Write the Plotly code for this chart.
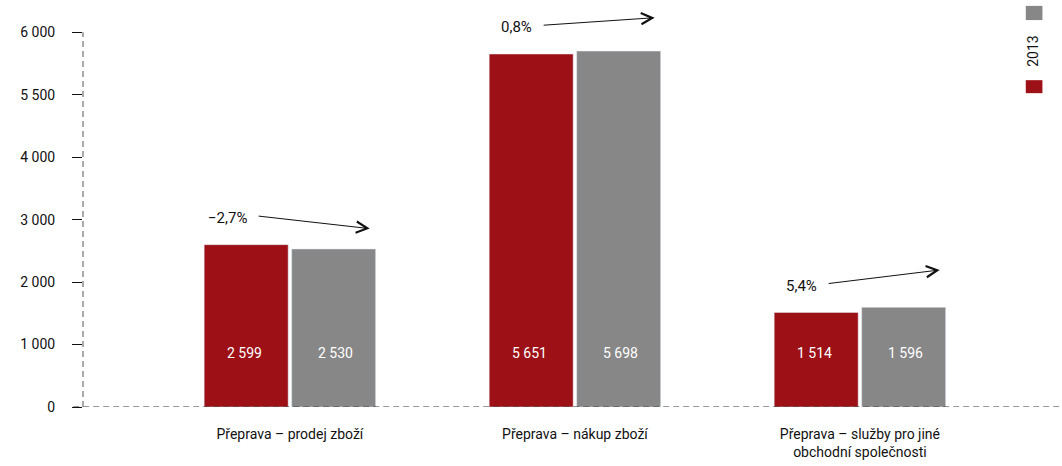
import plotly.graph_objects as go

categories = ["Přeprava – prodej zboží", "Přeprava – nákup zboží",
              "Přeprava – služby pro jiné<br>obchodní společnosti"]
values_red = [2599, 5651, 1514]
values_grey = [2530, 5698, 1596]
changes = ["−2,7%", "0,8%", "5,4%"]
tick_vals = [0, 1000, 2000, 3000, 4000, 5000, 6000]
tick_text = ["0", "1 000", "2 000", "3 000", "4 000", "5 500", "6 000"]
legend_label = "2013"

RED = "#9C1016"
GREY = "#878787"
FONT = "Roboto, sans-serif"

def fmt(v):
    return f"{v:,}".replace(",", " ")

x = list(range(len(categories)))
fig = go.Figure()
fig.add_bar(x=x, y=values_red, marker_color=RED, name="2013", showlegend=False)
fig.add_bar(x=x, y=values_grey, marker_color=GREY, name="2014", showlegend=False)

ann = []
for i in x:
    ann.append(dict(x=i, y=860, xref="x", yref="y", text=fmt(values_red[i]), showarrow=False,
                    xshift=-45, font=dict(color="white", size=14, family=FONT)))
    ann.append(dict(x=i, y=860, xref="x", yref="y", text=fmt(values_grey[i]), showarrow=False,
                    xshift=46, font=dict(color="white", size=14, family=FONT)))
    y0 = values_red[i] + 460
    y1 = values_red[i] + 450 + 2.8 * (values_grey[i] - values_red[i])
    ann.append(dict(x=i + 0.28, y=y1, ax=i - 0.115, ay=y0,
                    xref="x", yref="y", axref="x", ayref="y", text="", showarrow=True,
                    arrowhead=5, arrowsize=2.2, arrowwidth=1, arrowcolor="#111"))
    ann.append(dict(x=i - 0.115, y=y0, xref="x", yref="y", text=changes[i],
                    showarrow=False, xanchor="right", xshift=-8, yshift=-2,
                    font=dict(color="#111", size=15, family=FONT)))

ann.append(dict(x=0.9715, y=0.874, xref="paper", yref="paper", text=legend_label, textangle=-90,
                showarrow=False, xshift=9, yshift=18,
                font=dict(color="#111", size=14, family=FONT)))

DASH = "6px,4px"
shapes = [
    dict(type="line", xref="paper", yref="y", x0=-0.01, x1=1.0, y0=0, y1=0,
         line=dict(color="#333", width=1, dash=DASH)),
    dict(type="line", xref="paper", yref="y", x0=0, x1=0, y0=0, y1=6000,
         line=dict(color="#555", width=1, dash=DASH)),
    dict(type="rect", xref="paper", yref="paper", x0=0.963, x1=0.980, y0=0.953, y1=0.988,
         fillcolor=GREY, line=dict(width=0)),
    dict(type="rect", xref="paper", yref="paper", x0=0.963, x1=0.980, y0=0.773, y1=0.805,
         fillcolor=RED, line=dict(width=0)),
]

fig.update_layout(
    width=1062, height=466,
    margin=dict(l=83, r=0, t=1, b=59),
    paper_bgcolor="white", plot_bgcolor="white",
    barmode="group", bargap=0.386, bargroupgap=0.04,
    font=dict(family=FONT, size=14, color="#111"),
    annotations=ann, shapes=shapes,
    xaxis=dict(range=[-0.726, 2.709], tickvals=x, ticktext=categories, showgrid=False,
               zeroline=False, showline=False, ticks="", ticklabelstandoff=17,
               tickfont=dict(size=14, family=FONT)),
    yaxis=dict(range=[0, 6500], tickvals=tick_vals, ticktext=tick_text, showgrid=False,
               zeroline=False, showline=False, ticks="outside", ticklen=10, tickcolor="#111",
               ticklabelstandoff=14, tickfont=dict(size=14, family=FONT)),
)
fig.write_html("out.html", config={"displayModeBar": False},
               post_script="document.body.style.margin='0';")
